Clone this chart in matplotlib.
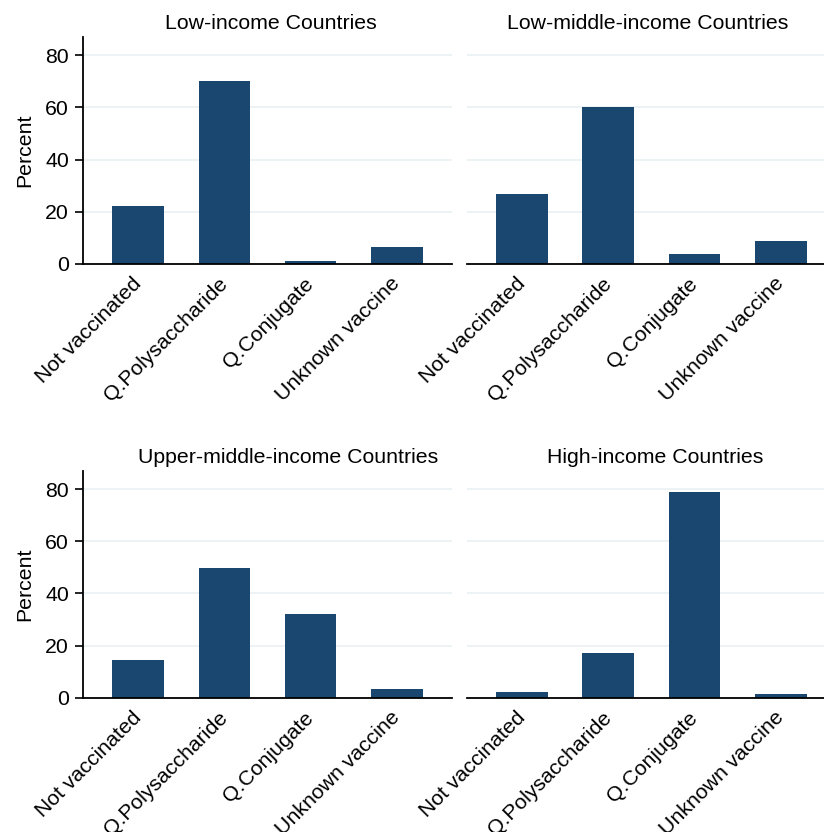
import numpy as np
import matplotlib
matplotlib.use("Agg")
import matplotlib.pyplot as plt

plt.rcParams['font.family'] = ['Liberation Sans', 'DejaVu Sans']

categories = ['Not vaccinated', 'Q.Polysaccharide', 'Q.Conjugate', 'Unknown vaccine']
groups = ['Low-income Countries', 'Low-middle-income Countries',
          'Upper-middle-income Countries', 'High-income Countries']

low_income = [22.2, 69.9, 1.2, 6.5]
low_middle_income = [26.8, 60.1, 3.8, 8.8]
upper_middle_income = [14.6, 49.8, 32.1, 3.6]
high_income = [2.4, 17.1, 78.9, 1.7]

series = [low_income, low_middle_income, upper_middle_income, high_income]

bar_color = '#1a476f'
grid_color = '#eaf0f4'
fs = 15.3

fig = plt.figure(figsize=(8.24, 8.32), dpi=100)

# axes boxes in figure fractions: (left, bottom, width, height)
w, h = 0.4478, 0.2728
boxes = [(0.1007, 0.6827), (0.5667, 0.6827), (0.1007, 0.1611), (0.5667, 0.1611)]
title_x = [0.51, 0.49, 0.555, 0.51]

x = np.arange(len(categories))
for i, (vals, name) in enumerate(zip(series, groups)):
    ax = fig.add_axes([boxes[i][0], boxes[i][1], w, h])
    ax.set_axisbelow(True)
    ax.bar(x, vals, width=0.6, color=bar_color, zorder=2)
    ax.set_xlim(-0.64, 3.64)
    ax.set_ylim(0, 86.9)
    ax.set_yticks([0, 20, 40, 60, 80])
    ax.yaxis.grid(True, color=grid_color, linewidth=1.2)
    ax.set_xticks(x)
    ax.set_xticklabels(categories, rotation=45, ha='right', va='center',
                       rotation_mode='anchor', fontsize=fs)
    ax.tick_params(axis='x', length=0, pad=12)
    ax.spines['top'].set_visible(False)
    ax.spines['right'].set_visible(False)
    ax.spines['bottom'].set_linewidth(1.3)
    ax.set_title(name, fontsize=fs, x=title_x[i], pad=6)
    if i % 2 == 0:
        ax.spines['left'].set_linewidth(1.3)
        ax.tick_params(axis='y', labelsize=fs, length=6, width=1.2, pad=4)
        ax.set_ylabel('Percent', fontsize=fs, labelpad=8)
    else:
        ax.spines['left'].set_visible(False)
        ax.tick_params(axis='y', left=False, labelleft=False)

fig.savefig('out.png', dpi=100, facecolor='white')
